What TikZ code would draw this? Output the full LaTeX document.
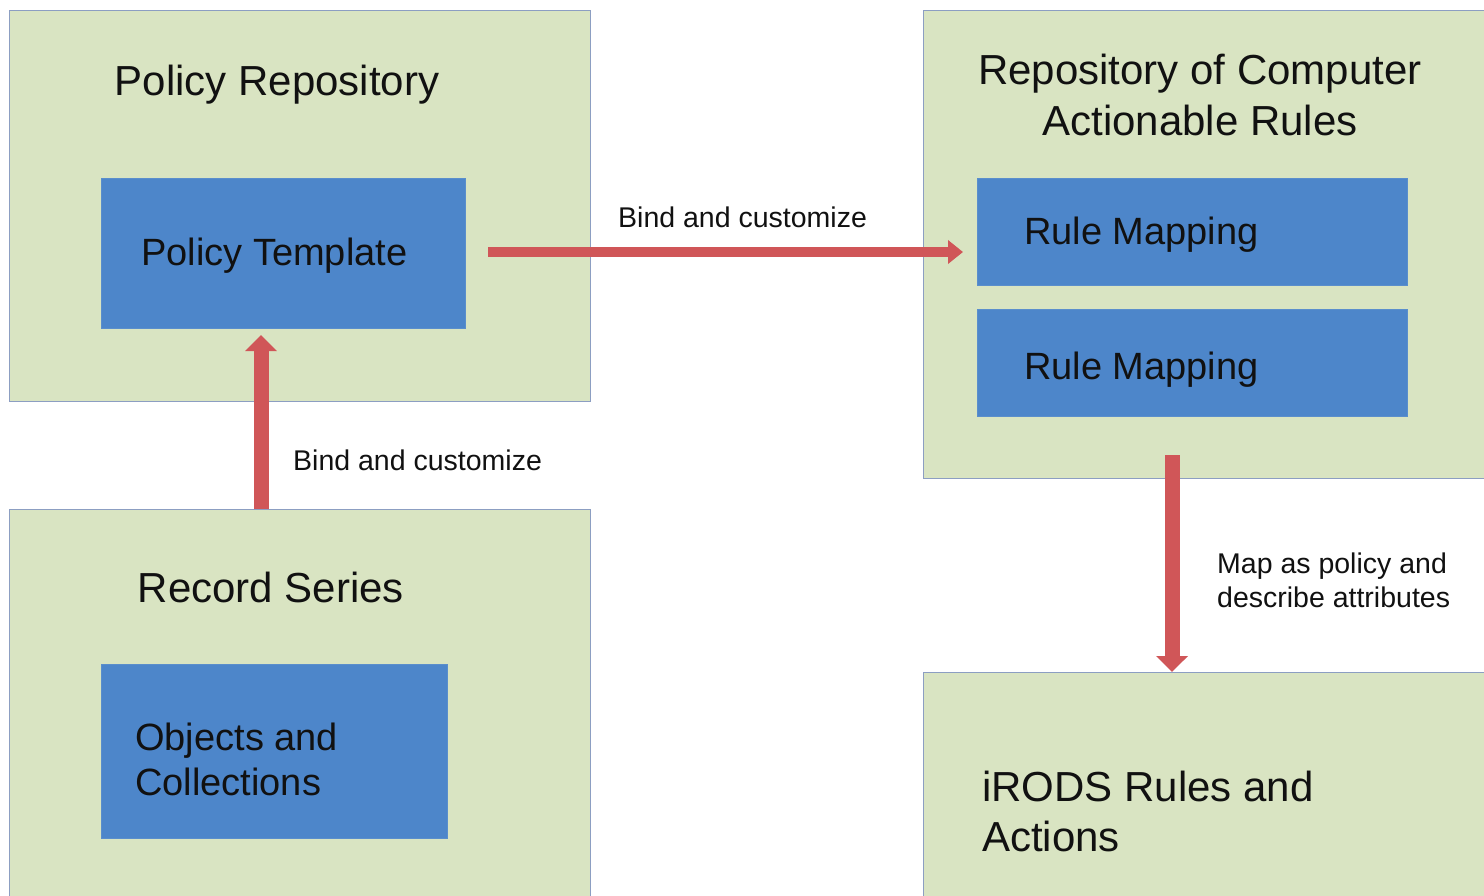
\documentclass[tikz,border=0pt]{standalone}
\usepackage{fontspec}
\setmainfont{Liberation Sans}
\usetikzlibrary{arrows.meta,calc}
\definecolor{greenbox}{HTML}{D9E4C2}
\definecolor{greenline}{HTML}{8C9EC2}
\definecolor{bluebox}{HTML}{4D86CA}
\definecolor{blueline}{HTML}{5A8ECC}
\definecolor{redarrow}{HTML}{D05658}
\definecolor{textcol}{HTML}{111111}
\tikzset{
  outerbox/.style={draw=greenline, line width=1.2pt, fill=greenbox, rectangle, inner sep=0pt, anchor=north west},
  innerbox/.style={draw=blueline, line width=1pt, fill=bluebox, rectangle, inner sep=0pt, anchor=north west},
  titletext/.style={text=textcol, font=\fontsize{42}{51}\selectfont, align=center, inner sep=0pt},
  boxtext/.style={text=textcol, font=\fontsize{38}{45}\selectfont, align=left, inner sep=0pt},
  lefttitle/.style={text=textcol, font=\fontsize{42}{50}\selectfont, align=left, inner sep=0pt},
  labeltext/.style={text=textcol, font=\fontsize{28.5}{34}\selectfont, align=left, inner sep=0pt},
  hshaft/.style={draw=redarrow, line width=10pt, -{Triangle[width=23pt,length=15pt]}},
  vshaft/.style={draw=redarrow, line width=15pt, -{Triangle[width=31pt,length=16pt]}},
}
\begin{document}
\begin{tikzpicture}[x=1pt,y=-1pt]
\useasboundingbox (0,0) rectangle (1484,895);
\fill[white] (0,0) rectangle (1484,895);
% outer boxes
\node[outerbox, minimum width=581pt, minimum height=391pt] (prepo) at (9,10) {};
\node[outerbox, minimum width=581pt, minimum height=400pt] (rseries) at (9,509) {};
\node[outerbox, minimum width=580pt, minimum height=468pt] (rcar) at (923,10) {};
\node[outerbox, minimum width=580pt, minimum height=240pt] (irods) at (923,672) {};
% inner boxes
\node[innerbox, minimum width=364pt, minimum height=150pt] (ptemp) at (101,178) {};
\node[innerbox, minimum width=346pt, minimum height=174pt] (objcol) at (101,664) {};
\node[innerbox, minimum width=430pt, minimum height=107pt] (rmap1) at (977,178) {};
\node[innerbox, minimum width=430pt, minimum height=107pt] (rmap2) at (977,309) {};
% texts
\node[titletext] (t1) at (277,85) {Policy Repository};
\node[titletext] (t2) at (271,587) {Record Series};
\node[titletext] (t3) at (1200,95) {Repository of Computer\\Actionable Rules};
\node[lefttitle, anchor=west] (t4) at (982,811) {iRODS Rules and\\Actions};
\node[boxtext, anchor=west] (t5) at (141,256) {Policy Template};
\node[boxtext, anchor=west] (t6) at (135,759) {Objects and\\Collections};
\node[boxtext, anchor=west] (t7) at (1024,235) {Rule Mapping};
\node[boxtext, anchor=west] (t8) at (1024,370) {Rule Mapping};
% arrows
\coordinate (hstart) at (488,252);
\coordinate (hend) at (963,252);
\draw[hshaft] (hstart) -- (hend);
\draw[vshaft] (rseries.north -| 261,0) -- (ptemp.south -| 261,0) [shorten >=6pt];
\coordinate (dstart) at (1172,455);
\draw[vshaft] (dstart) -- (irods.north -| dstart);
% labels
\node[labeltext, anchor=west] (l1) at (618,217) {Bind and customize};
\node[labeltext, anchor=west] (l2) at (293,460) {Bind and customize};
\node[labeltext, anchor=west] (l3) at (1217,580) {Map as policy and\\describe attributes};
\end{tikzpicture}
\end{document}
